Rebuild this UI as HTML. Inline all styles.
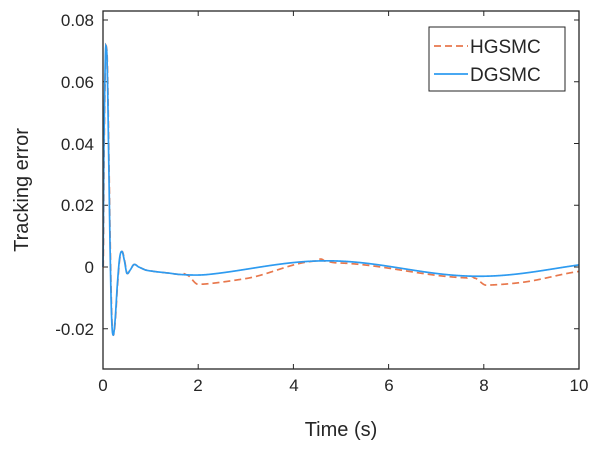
<!DOCTYPE html>
<html><head><style>body{margin:0;background:#fff}svg text{font-family:"Liberation Sans",Arial,sans-serif;fill:#262626}</style></head>
<body>
<svg id="s" width="600" height="452" xmlns="http://www.w3.org/2000/svg">
<rect x="0" y="0" width="600" height="452" fill="#fff"/>
<g id="ticks" stroke="#262626" stroke-width="1"></g>
<path id="red" fill="none" stroke="#E8784D" stroke-width="1.7" stroke-dasharray="7,4"/>
<path id="blue" fill="none" stroke="#2E9BF0" stroke-width="1.7"/>
<rect x="103" y="11" width="476" height="358" fill="none" stroke="#262626" stroke-width="1.3"/>
<g font-size="17" text-anchor="end">
<text x="94" y="26">0.08</text><text x="94" y="88">0.06</text><text x="94" y="150">0.04</text>
<text x="94" y="211">0.02</text><text x="94" y="273">0</text><text x="94" y="335">-0.02</text>
</g>
<g font-size="17" text-anchor="middle">
<text x="103" y="391">0</text><text x="198" y="391">2</text><text x="294" y="391">4</text>
<text x="389" y="391">6</text><text x="484" y="391">8</text><text x="579" y="391">10</text>
</g>
<text x="341" y="436" font-size="20" text-anchor="middle">Time (s)</text>
<text transform="translate(28,190) rotate(-90)" font-size="20" text-anchor="middle">Tracking error</text>
<rect x="429" y="27" width="136" height="64" fill="#fff" stroke="#262626" stroke-width="1"/>
<line x1="434" y1="46" x2="468" y2="46" stroke="#E8784D" stroke-width="1.7" stroke-dasharray="7,4"/>
<line x1="434" y1="74" x2="468" y2="74" stroke="#2E9BF0" stroke-width="1.7"/>
<text x="470" y="53" font-size="19">HGSMC</text>
<text x="470" y="81" font-size="19">DGSMC</text>
</svg>
<script>
const X=t=>103+t*47.6, Y=v=>267-v*3087.5;
let tk='';
for(let i=0;i<=5;i++){let x=X(2*i);tk+=`<line x1="${x}" y1="369" x2="${x}" y2="364"/><line x1="${x}" y1="11" x2="${x}" y2="16"/>`;}
for(let i=-1;i<=4;i++){let y=Y(0.02*i);tk+=`<line x1="103" y1="${y}" x2="108" y2="${y}"/><line x1="579" y1="${y}" x2="574" y2="${y}"/>`;}
document.getElementById('ticks').innerHTML=tk;
const early=[[0,0.0],[0.02,0.04],[0.05,0.068],[0.07,0.071],[0.09,0.064],[0.12,0.035],[0.15,0.005],[0.18,-0.016],[0.21,-0.022],[0.25,-0.018],[0.3,-0.006],[0.35,0.003],[0.4,0.005],[0.45,0.002],[0.5,-0.002],[0.57,-0.001],[0.65,0.0008],[0.75,0.0],[0.9,-0.001],[1.1,-0.0015],[1.4,-0.002],[1.6,-0.0024]];
function interp(t,a){for(let i=1;i<a.length;i++){if(t<=a[i][0]){let p0=a[Math.max(0,i-2)],p1=a[i-1],p2=a[i],p3=a[Math.min(a.length-1,i+1)];
 let u=(t-p1[0])/(p2[0]-p1[0]);let m1=(p2[1]-p0[1])/2,m2=(p3[1]-p1[1])/2;
 let u2=u*u,u3=u2*u;return (2*u3-3*u2+1)*p1[1]+(u3-2*u2+u)*m1+(-2*u3+3*u2)*p2[1]+(u3-u2)*m2;}}return a[a.length-1][1];}
const base=t=>-0.0005+0.0025*Math.cos(2*Math.PI*(t-4.7)/6.4);
function blue(t){if(t<=1.6)return interp(t,early);let w=Math.min(1,(t-1.6)/0.6);return (1-w)*-0.0024+w*base(t);}
const sm=u=>u<=0?0:u>=1?1:u*u*(3-2*u);
function red(t){let b=blue(t);let d=0;
 if(t<0.5)return interp(Math.max(0,t-0.005),early);
 if(t>1.75&&t<4.6){d=-0.003*sm((t-1.75)/0.25)*(1-sm((t-3.0)/1.5));}
 if(t>=4.6&&t<7.8)d=-0.0006*sm((t-4.6)/0.3);
 if(t>=7.8){d=-0.0006-0.0023*sm((t-7.8)/0.25)+0.0008*sm((t-8.8)/1.2);}
 if(t>1.6&&t<1.75)d=0.0004*Math.sin(Math.PI*(t-1.6)/0.15);
 if(t>4.5&&t<4.65)d+=0.0006*Math.sin(Math.PI*(t-4.5)/0.15);
 if(t>7.65&&t<7.8)d+=0.0006*Math.sin(Math.PI*(t-7.65)/0.15);
 return b+d;}
function path(f){let s='';for(let t=0;t<=10.0001;t+=0.005){s+=(s?'L':'M')+X(t).toFixed(2)+','+Y(f(t)).toFixed(2);}return s;}
document.getElementById('red').setAttribute('d',path(red));
document.getElementById('blue').setAttribute('d',path(blue));
</script>
</body></html>
